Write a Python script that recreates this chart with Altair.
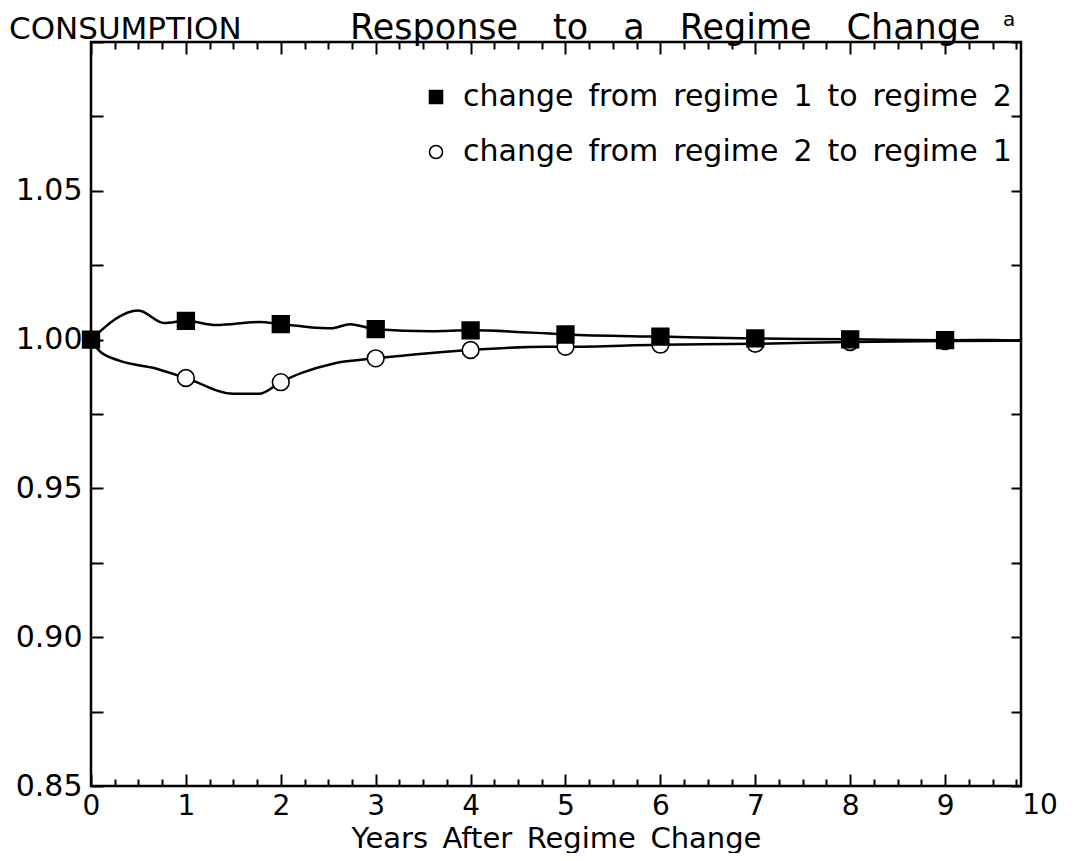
import altair as alt
import pandas as pd

# ---- data ----
S12 = "change\u2002from\u2002regime\u20021\u2002to\u2002regime\u20022"
S21 = "change\u2002from\u2002regime\u20022\u2002to\u2002regime\u20021"

years_12 = [0, 0.5, 0.77, 1, 1.32, 1.77, 2, 2.29, 2.53, 2.73, 3, 3.59, 4, 4.79,
            5, 6, 7, 8, 9, 9.5, 9.8]
cons_12 = [1.000, 1.0098, 1.0056, 1.0063, 1.0049, 1.0059, 1.0052, 1.0042, 1.0038,
           1.0052, 1.0035, 1.0028, 1.0031, 1.0021, 1.0017, 1.0010, 1.0004, 1.0001,
           0.9998, 0.9999, 0.9997]

years_21 = [0, 0.08, 0.29, 0.64, 1, 1.5, 1.77, 2, 2.22, 2.56, 3, 3.59, 4, 4.79,
            5, 6, 7, 8, 9, 9.8]
cons_21 = [1.000, 0.9965, 0.9930, 0.9906, 0.9871, 0.9818, 0.9818, 0.9857, 0.9888,
           0.9920, 0.9937, 0.9955, 0.9965, 0.9976, 0.9976, 0.9983, 0.9986, 0.9992,
           0.9995, 0.9996]

x_labels = [0, 1, 2, 3, 4, 5, 6, 7, 8, 9]
x_last_label = [10]
y_labels = [0.85, 0.90, 0.95, 1.00, 1.05]
x_ticks = [i * 0.25 for i in range(40)]
y_ticks = [0.85 + 0.025 * i for i in range(11)]

title_left = "CONSUMPTION"
title_right = "Response\u2003to\u2003a\u2003Regime\u2003Change"
title_sup = "a"
x_title = "Years\u2002After\u2002Regime\u2002Change"

# ---- build ----
df = pd.concat([
    pd.DataFrame({"year": years_21, "value": cons_21, "series": S21}),
    pd.DataFrame({"year": years_12, "value": cons_12, "series": S12}),
], ignore_index=True)

W, H = 930, 744
FONT = "DejaVu Sans"
xs = alt.Scale(domain=[0, 9.8], nice=False, zero=False)
ys = alt.Scale(domain=[0.85, 1.10], nice=False, zero=False)

common = dict(domain=False, grid=False, tickColor="black", tickWidth=2,
              labelColor="black", labelFont=FONT, titleFont=FONT,
              titleColor="black", titleFontWeight="normal")

ax_x_lab = alt.Axis(values=x_labels, format="d", labelFontSize=28, tickSize=0,
                    labelPadding=6, labelFlush=False, title=x_title,
                    titleFontSize=29, titleBaseline="alphabetic", titleY=61,
                    **common)
ax_y_lab = alt.Axis(values=y_labels, format=".2f", labelFontSize=30, tickSize=0,
                    labelPadding=9, labelFlush=False, title=None, **common)

tick_x = {"condition": {"test": "abs(datum.value - round(datum.value)) < 0.001", "value": 12}, "value": 7}

ax_x_bot_in = alt.Axis(orient="top", offset=-H, values=x_ticks, labels=False,
                       tickSize=tick_x, title=None, **common)
ax_x_top_in = alt.Axis(orient="bottom", offset=-H, values=x_ticks, labels=False,
                       tickSize=tick_x, title=None, **common)
ax_y_left_in = alt.Axis(orient="right", offset=-W, values=y_ticks, labels=False,
                        tickSize=12, title=None, **common)
ax_y_right_in = alt.Axis(orient="left", offset=-W, values=y_ticks, labels=False,
                         tickSize=10, title=None, **common)

base = alt.Chart(df)

lines = base.mark_line(color="black", strokeWidth=2.5, interpolate="monotone").encode(
    x=alt.X("year:Q", scale=xs, axis=ax_x_lab),
    y=alt.Y("value:Q", scale=ys, axis=ax_y_lab),
    detail="series:N",
)

legend = alt.Legend(title=None, orient="none", legendX=330, legendY=40,
                    labelFontSize=30, labelFont=FONT, labelColor="black",
                    symbolSize=170, symbolStrokeWidth=1.6, symbolOpacity=1,
                    rowPadding=25, labelOffset=12, padding=0, labelLimit=0)

dom = [S12, S21]
points = base.mark_point(filled=True, strokeWidth=1.6, size=280, opacity=1).encode(
    x=alt.X("year:Q", scale=xs, axis=ax_x_bot_in),
    y=alt.Y("value:Q", scale=ys, axis=ax_y_left_in),
    shape=alt.Shape("series:N", scale=alt.Scale(domain=dom, range=["square", "circle"]), legend=legend),
    fill=alt.Fill("series:N", scale=alt.Scale(domain=dom, range=["black", "white"]), legend=legend),
    stroke=alt.Stroke("series:N", scale=alt.Scale(domain=dom, range=["black", "black"]), legend=legend),
).transform_filter("datum.year % 1 == 0 && datum.year < 9.5")

ghost = base.mark_line(opacity=0).encode(
    x=alt.X("year:Q", scale=xs, axis=ax_x_top_in),
    y=alt.Y("value:Q", scale=ys, axis=ax_y_right_in),
    detail="series:N",
)

# the "10" tick label sits just beyond the frame's right edge
last_lab = alt.Chart(pd.DataFrame({"x": x_last_label, "t": [str(v) for v in x_last_label]})).mark_text(
    baseline="top", font=FONT, fontSize=28, color="black"
).encode(
    x=alt.X("x:Q", scale=xs, axis=None),
    y=alt.value(H + 6),
    text="t:N",
)

t1 = alt.Chart(pd.DataFrame({"t": [title_left]})).mark_text(
    align="left", baseline="alphabetic", font=FONT, fontSize=31, color="black",
    x=-82, y=-3).encode(text="t:N")
t2 = alt.Chart(pd.DataFrame({"t": [title_right]})).mark_text(
    align="left", baseline="alphabetic", font=FONT, fontSize=35, color="black",
    x=259, y=-3).encode(text="t:N")
t3 = alt.Chart(pd.DataFrame({"t": [title_sup]})).mark_text(
    align="left", baseline="alphabetic", font=FONT, fontSize=20, color="black",
    x=912, y=-16).encode(text="t:N")

chart = alt.layer(lines, ghost, points, last_lab, t1, t2, t3).resolve_axis(
    x="independent", y="independent"
).properties(
    width=W, height=H, autosize="none",
    padding={"left": 83, "top": 34, "right": 60, "bottom": 67},
).configure_view(stroke="black", strokeWidth=2.5)

chart.save("out.html", embed_options={"renderer": "svg", "actions": False})
